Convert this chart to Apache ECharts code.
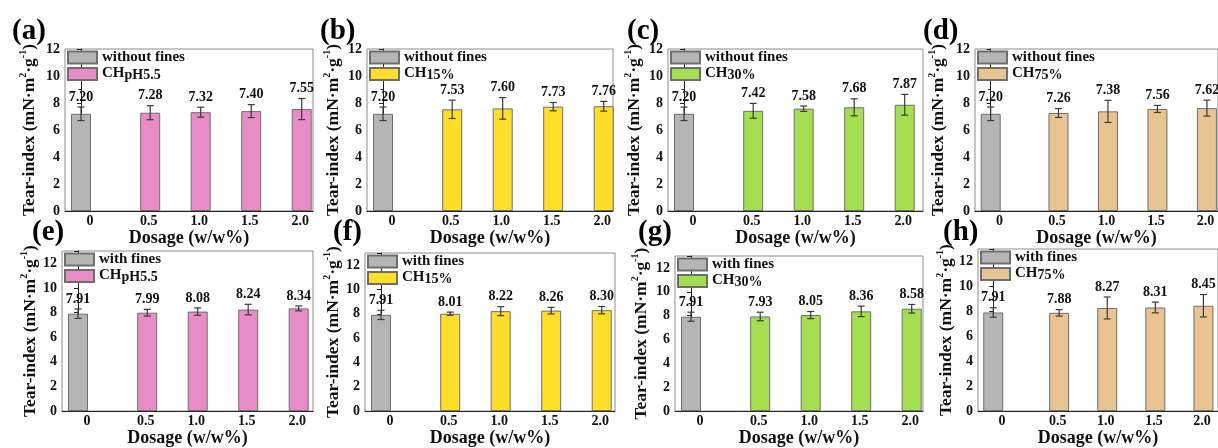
<!DOCTYPE html>
<html>
<head>
<meta charset="utf-8">
<script src="https://cdn.jsdelivr.net/npm/echarts@6/dist/echarts.min.js"></script>
<style>
html,body{margin:0;padding:0;background:#fff;}
#chart{width:1218px;height:448px;}
</style>
</head>
<body>
<div id="chart"></div>
<script>
// ---------- data ----------
const dosageLabels = ['0', '0.5', '1.0', '1.5', '2.0'];
const panelLetters = ['(a)', '(b)', '(c)', '(d)', '(e)', '(f)', '(g)', '(h)'];
const controlNames = ['without fines', 'with fines'];
const chNames = ['CHpH5.5', 'CH15%', 'CH30%', 'CH75%'];

// control (0 dosage)
const ctrlWithout = 7.20, ctrlWithoutErr = 0.50;
const ctrlWith = 7.91, ctrlWithErr = 0.38;

// without fines (top row)
const withoutPH55 = [7.28, 7.32, 7.40, 7.55];
const withoutPH55Err = [0.52, 0.37, 0.48, 0.78];
const without15 = [7.53, 7.60, 7.73, 7.76];
const without15Err = [0.68, 0.80, 0.31, 0.36];
const without30 = [7.42, 7.58, 7.68, 7.87];
const without30Err = [0.55, 0.20, 0.63, 0.77];
const without75 = [7.26, 7.38, 7.56, 7.62];
const without75Err = [0.33, 0.82, 0.26, 0.59];

// with fines (bottom row)
const withPH55 = [7.99, 8.08, 8.24, 8.34];
const withPH55Err = [0.27, 0.30, 0.43, 0.20];
const with15 = [8.01, 8.22, 8.26, 8.30];
const with15Err = [0.13, 0.37, 0.27, 0.30];
const with30 = [7.93, 8.05, 8.36, 8.58];
const with30Err = [0.36, 0.30, 0.44, 0.36];
const with75 = [7.88, 8.27, 8.31, 8.45];
const with75Err = [0.26, 0.88, 0.43, 0.90];

// ---------- layout / style ----------
const barPos = [0, 1.37, 2.37, 3.37, 4.37];
const labelPos = [0.18, 1.34, 2.34, 3.34, 4.34];
const unitPx = 50.5, xMin = -0.317;
const FONT = 'Liberation Serif';
const ctrlColor = '#B5B5B5';
const chColors = ['#E88CC8', '#FFDE2A', '#A6DE52', '#E8C492'];

const panels = [
  {l: 65, t: 49, r: 313, b: 211, gap: 27, lx: 12, ly: 17},
  {l: 367, t: 49, r: 613, b: 211, gap: 25, lx: 320, ly: 17},
  {l: 668, t: 49, r: 923, b: 211, gap: 25, lx: 627, ly: 17},
  {l: 975, t: 49, r: 1223, b: 211, gap: 28, lx: 923, ly: 17},
  {l: 62, t: 251, r: 313, b: 417, gap: 23, lx: 32, ly: 218},
  {l: 365, t: 253, r: 615, b: 417, gap: 20, lx: 333, ly: 218},
  {l: 675, t: 256, r: 923, b: 417, gap: 25, lx: 638, ly: 218},
  {l: 978, t: 249, r: 1230, b: 417, gap: 23, lx: 943, ly: 218}
];

const rowVals = [
  [withoutPH55, without15, without30, without75],
  [withPH55, with15, with30, with75]
];
const rowErrs = [
  [withoutPH55Err, without15Err, without30Err, without75Err],
  [withPH55Err, with15Err, with30Err, with75Err]
];

const grids = [], xAxes = [], yAxes = [], series = [], legends = [], titles = [];

function errRender(vals, errs) {
  return function (params, api) {
    const i = params.dataIndex;
    const x = api.value(0);
    const v = vals[i], e = errs[i];
    const pT = api.coord([x, v + e]);
    const pB = api.coord([x, v - e]);
    const cap = 3.5;
    const st = {stroke: '#3a3a3a', lineWidth: 1.2};
    return {
      type: 'group',
      children: [
        {type: 'line', shape: {x1: pT[0], y1: pT[1], x2: pB[0], y2: pB[1]}, style: st},
        {type: 'line', shape: {x1: pT[0] - cap, y1: pT[1], x2: pT[0] + cap, y2: pT[1]}, style: st},
        {type: 'line', shape: {x1: pB[0] - cap, y1: pB[1], x2: pB[0] + cap, y2: pB[1]}, style: st},
        {type: 'text', x: pT[0], y: pT[1] - 3, style: {
          text: v.toFixed(2), fill: '#111', align: 'center', verticalAlign: 'bottom',
          font: 'bold 14px "' + FONT + '"'
        }}
      ]
    };
  };
}

panels.forEach((p, k) => {
  const row = k < 4 ? 0 : 1;
  const col = k % 4;
  const w = p.r - p.l, h = p.b - p.t;
  const yMax = row === 0 ? 12 : 13;
  grids.push({left: p.l, top: p.t, width: w, height: h, show: true,
    borderColor: '#8c8c8c', borderWidth: 1, backgroundColor: 'transparent'});
  xAxes.push({
    type: 'value', gridIndex: k, min: xMin, max: xMin + w / unitPx,
    axisLine: {show: true, onZero: false, lineStyle: {color: '#222', width: 1}},
    axisTick: {show: false}, splitLine: {show: false},
    axisLabel: {
      customValues: labelPos, margin: 3,
      fontFamily: FONT, fontWeight: 'bold', fontSize: 14, color: '#111',
      formatter: function (val) {
        for (let j = 0; j < labelPos.length; j++) if (Math.abs(labelPos[j] - val) < 1e-6) return dosageLabels[j];
        return '';
      }
    },
    name: 'Dosage (w/w%)', nameLocation: 'middle', nameGap: row === 0 ? 17 : 14,
    nameTextStyle: {fontFamily: FONT, fontWeight: 'bold', fontSize: 18, color: '#111'}
  });
  yAxes.push({
    type: 'value', gridIndex: k, min: 0, max: yMax, interval: 2,
    axisLine: {show: true, lineStyle: {color: '#222', width: 1}},
    axisTick: {show: true, inside: false, length: 4, lineStyle: {color: '#222'}},
    minorTick: {show: true, splitNumber: 2, length: 2.5, lineStyle: {color: '#222'}},
    splitLine: {show: false},
    axisLabel: {
      margin: 5, fontFamily: FONT, fontWeight: 'bold', fontSize: 14, color: '#111',
      formatter: v => (v > 12 ? '' : String(v))
    },
    name: '{t|Tear-index (mN·m}{p|2}{t|·g}{p|-1}{t|)}',
    nameLocation: 'middle', nameGap: p.gap, nameRotate: 90,
    nameTextStyle: {
      rich: {
        t: {fontFamily: FONT, fontWeight: 'bold', fontSize: 17.5, color: '#111', lineHeight: 20, verticalAlign: 'bottom'},
        p: {fontFamily: FONT, fontWeight: 'bold', fontSize: 10, color: '#111', lineHeight: 10, verticalAlign: 'top'}
      }
    }
  });
  const ctrlName = controlNames[row];
  const chName = chNames[col];
  const ctrlVal = row === 0 ? ctrlWithout : ctrlWith;
  const ctrlErr = row === 0 ? ctrlWithoutErr : ctrlWithErr;
  const vals = rowVals[row][col], errs = rowErrs[row][col];

  series.push({
    name: ctrlName, type: 'bar', xAxisIndex: k, yAxisIndex: k,
    barWidth: 20, barGap: '-100%',
    itemStyle: {color: ctrlColor, borderColor: '#6e6e6e', borderWidth: 1},
    data: [[barPos[0], ctrlVal]], silent: true
  });
  series.push({
    name: chName, type: 'bar', xAxisIndex: k, yAxisIndex: k,
    barWidth: 20, barGap: '-100%',
    itemStyle: {color: chColors[col], borderColor: '#6e6e6e', borderWidth: 1},
    data: vals.map((v, i) => [barPos[i + 1], v]), silent: true
  });
  const allVals = [ctrlVal].concat(vals), allErrs = [ctrlErr].concat(errs);
  series.push({
    type: 'custom', xAxisIndex: k, yAxisIndex: k, silent: true, z: 5,
    renderItem: errRender(allVals, allErrs),
    data: allVals.map((v, i) => [barPos[i], v]), clip: false
  });
  legends.push({
    data: [ctrlName, chName], orient: 'vertical', left: p.l + 2, top: p.t + 1,
    padding: 0, itemWidth: 29, itemHeight: 12, itemGap: 0, icon: 'rect',
    selectedMode: false,
    formatter: function (name) {
      if (name.indexOf('CH') === 0) return '{m|CH}{s|' + name.slice(2) + '}';
      return '{n|' + name + '}';
    },
    textStyle: {
      fontFamily: FONT, fontWeight: 'bold', fontSize: 15, color: '#111',
      rich: {
        n: {fontFamily: FONT, fontWeight: 'bold', fontSize: 15, color: '#111', lineHeight: 16},
        m: {fontFamily: FONT, fontWeight: 'bold', fontSize: 15, color: '#111', lineHeight: 16, verticalAlign: 'top'},
        s: {fontFamily: FONT, fontWeight: 'bold', fontSize: 14, color: '#111', lineHeight: 14, verticalAlign: 'bottom', padding: [3, 0, 0, 0]}
      }
    }
  });
  titles.push({
    text: panelLetters[k], left: p.lx, top: p.ly, padding: 0, z: 10,
    textStyle: {fontFamily: FONT, fontWeight: 'bold', fontSize: 29, color: '#000'}
  });
});

const chart = echarts.init(document.getElementById('chart'), null, {renderer: 'canvas'});
chart.setOption({
  animation: false,
  backgroundColor: '#fff',
  title: titles,
  legend: legends,
  grid: grids,
  xAxis: xAxes,
  yAxis: yAxes,
  series: series
});
</script>
</body>
</html>
